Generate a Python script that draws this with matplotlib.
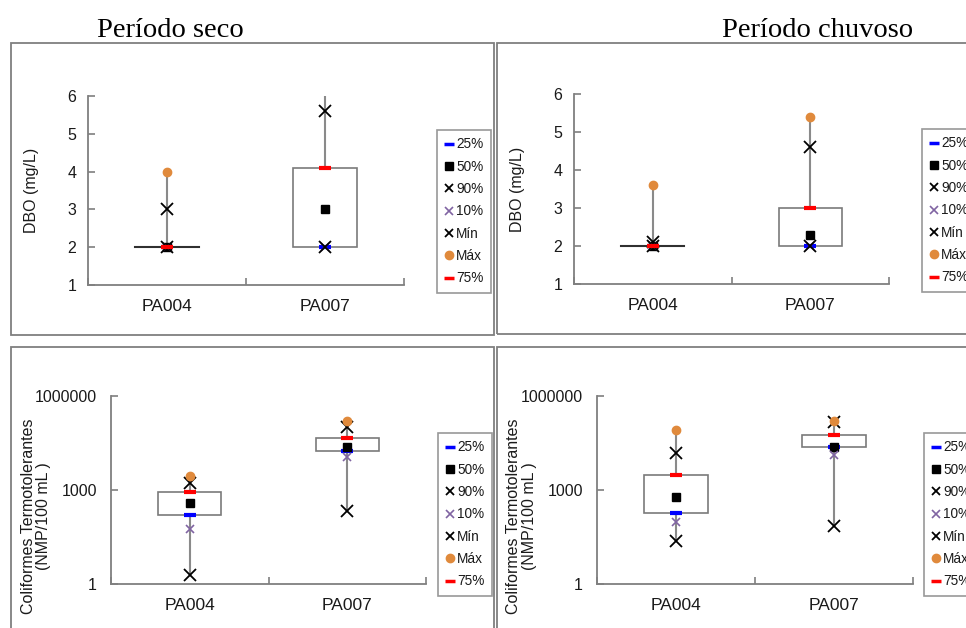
import matplotlib
matplotlib.use('Agg')
import matplotlib.pyplot as plt
from matplotlib.lines import Line2D
from matplotlib.patches import Rectangle
from matplotlib.ticker import FixedLocator, FixedFormatter, NullLocator

plt.rcParams['font.family'] = ['Liberation Sans', 'DejaVu Sans']

# station names
categories = ['PA004', 'PA007']

# DBO (mg/L), dry season
dbo_seco_p25 = [2.0, 2.0]
dbo_seco_p50 = [2.0, 3.0]
dbo_seco_p75 = [2.0, 4.1]
dbo_seco_p10 = [2.0, 2.0]
dbo_seco_p90 = [3.0, 5.6]
dbo_seco_min = [2.0, 2.0]
dbo_seco_max = [4.0, 6.5]

# DBO (mg/L), rainy season
dbo_chuva_p25 = [2.0, 2.0]
dbo_chuva_p50 = [2.0, 2.3]
dbo_chuva_p75 = [2.0, 3.0]
dbo_chuva_p10 = [2.0, 2.0]
dbo_chuva_p90 = [2.1, 4.6]
dbo_chuva_min = [2.0, 2.0]
dbo_chuva_max = [3.6, 5.4]

# Coliformes termotolerantes (NMP/100 mL), dry season
coli_seco_p25 = [155, 18000]
coli_seco_p50 = [390, 24000]
coli_seco_p75 = [890, 47000]
coli_seco_p10 = [58, 11000]
coli_seco_p90 = [1650, 100000]
coli_seco_min = [2, 216]
coli_seco_max = [2900, 155000]

# Coliformes termotolerantes (NMP/100 mL), rainy season
coli_chuva_p25 = [182, 23000]
coli_chuva_p50 = [590, 24000]
coli_chuva_p75 = [2950, 59000]
coli_chuva_p10 = [92, 13000]
coli_chuva_p90 = [15000, 150000]
coli_chuva_min = [23, 72]
coli_chuva_max = [80000, 155000]

dbo_ticks = [1, 2, 3, 4, 5, 6]
coli_ticks = [1, 1000, 1000000]
coli_tick_labels = ['1', '1000', '1000000']

W, H = 966, 628
GRAY = '#8a8a8a'
ORANGE = '#e08a3c'
PURPLE = '#8064a2'

fig = plt.figure(figsize=(W / 100, H / 100), dpi=100)


def px_axes(x0, y0, x1, y1):
    # pixel box (top-left origin) -> figure axes
    return fig.add_axes([x0 / W, 1 - y1 / H, (x1 - x0) / W, (y1 - y0) / H])


def frame(x0, y0, x1, y1):
    fig.patches.append(Rectangle((x0 / W, 1 - y1 / H), (x1 - x0) / W, (y1 - y0) / H,
                                 transform=fig.transFigure, fill=False,
                                 edgecolor='#7f7f7f', lw=1.3))


def boxplot(ax, p25, p50, p75, p10, p90, vmin, vmax):
    xs = [0.5, 1.5]
    for i, x in enumerate(xs):
        ax.plot([x, x], [vmin[i], vmax[i]], color=GRAY, lw=1.5, zorder=1)
    heights = [b - a for a, b in zip(p25, p75)]
    ax.bar(xs, heights, bottom=p25, width=0.4, color='white',
           edgecolor='#7a7a7a', lw=1.2, zorder=2)
    for i, x in enumerate(xs):
        if heights[i] == 0:
            ax.plot([x - 0.2, x + 0.2], [p25[i], p25[i]], color='#303030', lw=1.5, zorder=2)
    kw = dict(ls='none', zorder=3, clip_on=True)
    ax.plot(xs, p25, marker='_', color='#0000ff', ms=9, mew=3, **kw)
    ax.plot(xs, p50, marker='s', color='black', ms=6, **kw)
    ax.plot(xs, p90, marker='x', color='black', ms=8, mew=1.3, **kw)
    ax.plot(xs, p10, marker='x', color=PURPLE, ms=6, mew=1.2, **kw)
    ax.plot(xs, vmin, marker='x', color='black', ms=8, mew=1.3, **kw)
    ax.plot(xs, vmax, marker='o', color=ORANGE, ms=6, **kw)
    ax.plot(xs, p75, marker='_', color='#ff0000', ms=9, mew=3, **kw)


def style_axes(ax, logy, ylabel, label_y):
    for s in ['top', 'right']:
        ax.spines[s].set_visible(False)
    for s in ['left', 'bottom']:
        ax.spines[s].set_color('#7f7f7f')
        ax.spines[s].set_linewidth(1.3)
    ax.set_xlim(0, 2)
    ax.xaxis.set_major_locator(FixedLocator([0, 1, 2]))
    ax.xaxis.set_major_formatter(FixedFormatter(['', '', '']))
    ax.xaxis.set_minor_locator(FixedLocator([0.5, 1.5]))
    ax.xaxis.set_minor_formatter(FixedFormatter(categories))
    ax.tick_params(axis='x', which='major', direction='in', length=5, color='#7f7f7f', width=1.2)
    ax.tick_params(axis='x', which='minor', length=0, pad=10, labelsize=12.5, labelcolor='#1a1a1a')
    if logy:
        ax.set_yscale('log')
        ax.set_ylim(1, 1000000)
        ax.yaxis.set_major_locator(FixedLocator(coli_ticks))
        ax.yaxis.set_major_formatter(FixedFormatter(coli_tick_labels))
        ax.yaxis.set_minor_locator(NullLocator())
        ax.set_ylabel(ylabel, fontsize=11.5, linespacing=1.05, color='#1a1a1a')
        ax.yaxis.set_label_coords(-0.19, label_y)
        pad = 10
    else:
        ax.set_ylim(1, 6)
        ax.set_yticks(dbo_ticks)
        ax.set_ylabel(ylabel, fontsize=11.5, color='#1a1a1a')
        ax.yaxis.set_label_coords(-0.155, label_y)
        pad = 8.5
    ax.tick_params(axis='y', direction='in', length=5, color='#7f7f7f', width=1.2,
                   pad=pad, labelsize=11.5, labelcolor='#1a1a1a')


def legend(ax, x0, y0):
    handles = [
        Line2D([], [], ls='none', marker='_', color='#0000ff', ms=7, mew=2.5),
        Line2D([], [], ls='none', marker='s', color='black', ms=6),
        Line2D([], [], ls='none', marker='x', color='black', ms=5.5, mew=1.3),
        Line2D([], [], ls='none', marker='x', color=PURPLE, ms=5.5, mew=1.2),
        Line2D([], [], ls='none', marker='x', color='black', ms=5.5, mew=1.3),
        Line2D([], [], ls='none', marker='o', color=ORANGE, ms=6),
        Line2D([], [], ls='none', marker='_', color='#ff0000', ms=7, mew=2.5),
    ]
    labels = ['25%', '50%', '90%', '10%', 'Mín', 'Máx', '75%']
    leg = ax.legend(handles, labels, loc='upper left', bbox_to_anchor=(x0 / W, 1 - y0 / H),
                    bbox_transform=fig.transFigure, fontsize=9.8, frameon=True, fancybox=False,
                    edgecolor='#7f7f7f', handlelength=0.6, handletextpad=0.25,
                    labelspacing=0.61, borderpad=0.55, borderaxespad=0)
    leg.get_frame().set_linewidth(1.2)
    for t in leg.get_texts():
        t.set_color('#1a1a1a')


# panel frames
frame(11, 43, 494, 335)
frame(497, 43, 1000, 334)
frame(11, 347, 494, 660)
frame(497, 347, 1000, 660)

fig.text(97 / W, 1 - 37 / H, 'Período seco', family=['Liberation Serif', 'DejaVu Serif'],
         fontsize=20.5, ha='left', va='baseline')
fig.text(913 / W, 1 - 37 / H, 'Período chuvoso', family=['Liberation Serif', 'DejaVu Serif'],
         fontsize=20.5, ha='right', va='baseline')

ax1 = px_axes(88, 96, 404, 285)
boxplot(ax1, dbo_seco_p25, dbo_seco_p50, dbo_seco_p75, dbo_seco_p10,
        dbo_seco_p90, dbo_seco_min, dbo_seco_max)
style_axes(ax1, False, 'DBO (mg/L)', 0.5)
legend(ax1, 437, 130)

ax2 = px_axes(574, 94, 889, 284)
boxplot(ax2, dbo_chuva_p25, dbo_chuva_p50, dbo_chuva_p75, dbo_chuva_p10,
        dbo_chuva_p90, dbo_chuva_min, dbo_chuva_max)
style_axes(ax2, False, 'DBO (mg/L)', 0.5)
legend(ax2, 922, 129)

ax3 = px_axes(111, 396, 426, 584)
boxplot(ax3, coli_seco_p25, coli_seco_p50, coli_seco_p75, coli_seco_p10,
        coli_seco_p90, coli_seco_min, coli_seco_max)
style_axes(ax3, True, 'Coliformes Termotolerantes\n(NMP/100 mL )', 0.36)
legend(ax3, 438, 433)

ax4 = px_axes(597, 396, 913, 584)
boxplot(ax4, coli_chuva_p25, coli_chuva_p50, coli_chuva_p75, coli_chuva_p10,
        coli_chuva_p90, coli_chuva_min, coli_chuva_max)
style_axes(ax4, True, 'Coliformes Termotolerantes\n(NMP/100 mL )', 0.36)
legend(ax4, 924, 433)

fig.savefig('out.png', dpi=100)
